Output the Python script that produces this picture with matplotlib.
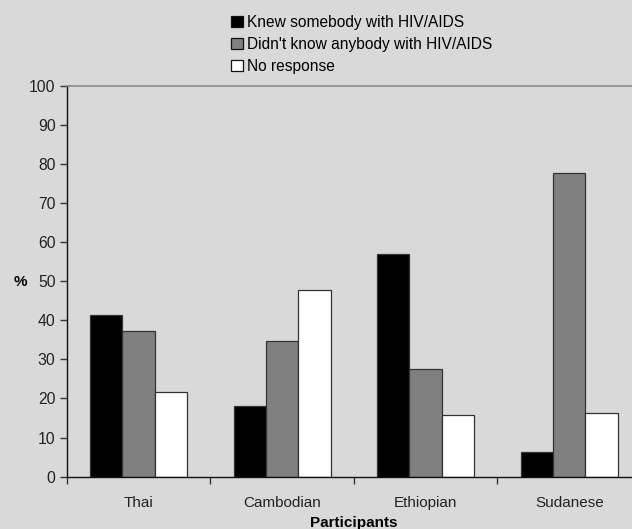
import numpy as np
import matplotlib.pyplot as plt
from matplotlib.patches import Patch

groups = ["Thai", "Cambodian", "Ethiopian", "Sudanese"]
knew = [41.3, 18.1, 57.0, 6.3]
didnt_know = [37.3, 34.6, 27.6, 77.7]
no_response = [21.7, 47.7, 15.9, 16.4]
series_names = ["Knew somebody with HIV/AIDS",
                "Didn't know anybody with HIV/AIDS",
                "No response"]

plt.rcParams['font.family'] = ['Liberation Sans', 'DejaVu Sans']
bg = '#d9d9d9'

fig = plt.figure(figsize=(6.32, 5.29), dpi=100, facecolor=bg)
ax = fig.add_axes([0.1055, 0.0989, 0.9088, 0.7391], facecolor=bg)

x = np.arange(len(groups)) + 0.5
w = 0.225
colors = ['#000000', '#808080', '#ffffff']
for i, (vals, c) in enumerate(zip([knew, didnt_know, no_response], colors)):
    ax.bar(x + (i - 1) * w, vals, w, color=c, edgecolor='#333333', linewidth=0.9)

ax.set_xlim(0, 4)
ax.set_ylim(0, 100)
ax.set_yticks(range(0, 101, 10))
ax.set_xticks(range(0, 5))
ax.set_xticklabels([])
ax.set_xticks(x, minor=True)
ax.set_xticklabels(groups, minor=True)
ax.tick_params(axis='x', which='minor', length=0, pad=14, labelsize=11, colors='#222222')
ax.tick_params(axis='x', which='major', length=5, width=1, color='#333333')
ax.tick_params(axis='y', length=5, width=1, labelsize=11.3, colors='#222222', pad=3)
ax.tick_params(axis='y', color='#333333')

for s in ['left', 'bottom']:
    ax.spines[s].set_color('#111111')
    ax.spines[s].set_linewidth(1.0)
ax.spines['top'].set_color('#8a8a8a')
ax.spines['top'].set_linewidth(1.2)
ax.spines['right'].set_visible(False)

ax.set_xlabel("Participants", fontsize=11, fontweight='bold', labelpad=4)
fig.text(20 / 632, 1 - 282 / 529, "%", fontsize=11, fontweight='bold',
         ha='center', va='center')

handles = [Patch(facecolor=c, edgecolor='#111111', linewidth=0.9) for c in colors]
fig.legend(handles, series_names, loc='upper left',
           bbox_to_anchor=(231 / 632, 1 - 15 / 529), frameon=False,
           fontsize=11.2, handlelength=0.75, handleheight=0.75,
           handletextpad=0.25, labelspacing=0.45, borderpad=0, borderaxespad=0)

fig.savefig("out.png", dpi=100, facecolor=bg)
